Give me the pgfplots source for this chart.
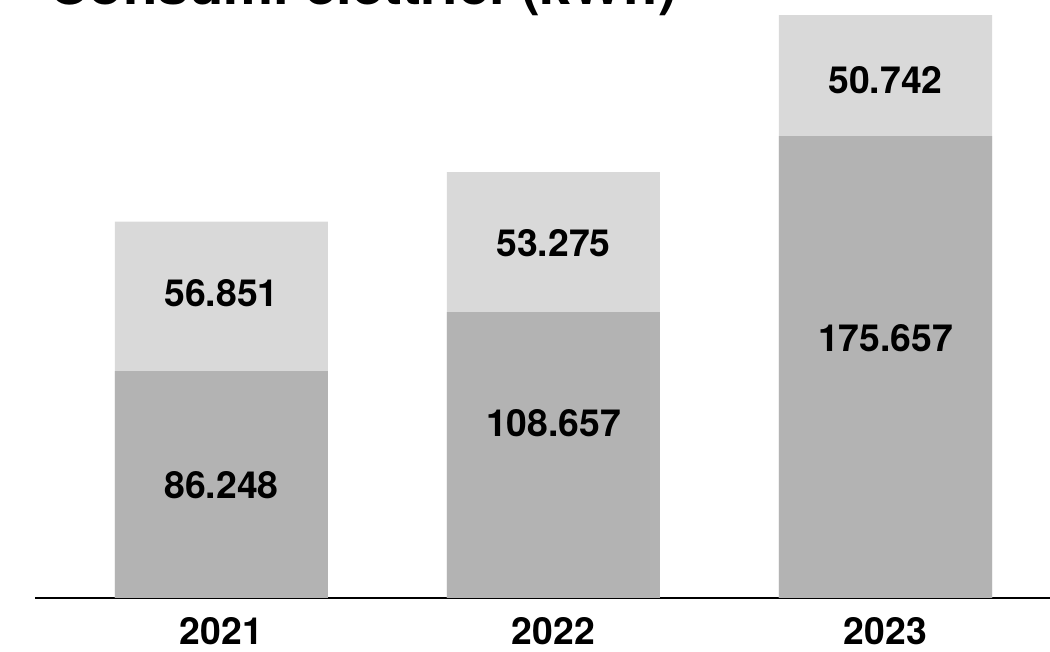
\documentclass[border=0pt]{standalone}
\usepackage{pgfplots}
\pgfplotsset{compat=1.18}
\usepackage{fontspec}
\setmainfont{TeX Gyre Heros}
\definecolor{darkbar}{HTML}{B3B3B3}
\definecolor{lightbar}{HTML}{D9D9D9}
\begin{document}
\begin{tikzpicture}
\begin{axis}[
  at={(26.25pt,40.5pt)}, anchor=south west,
  scale only axis,
  width=761.25pt, height=436.5pt,
  xmin=-0.5617, xmax=2.4955,
  ymin=0, ymax=221.29,
  clip=true,
  hide y axis,
  axis x line*=bottom,
  x axis line style={line width=2.2pt, -},
  xtick={0,1,2},
  xticklabels={2021,2022,2023},
  major tick length=0pt,
  xticklabel style={anchor=base, yshift=-35.25pt, font=\fontsize{28}{28}\selectfont\bfseries},
  title={Consumi elettrici (kWh)},
  title style={at={(rel axis cs:0.0128,1.00515)}, anchor=base west, inner sep=0pt,
    font=\fontsize{42.3}{42}\selectfont\bfseries},
]
% totals (dark + light) drawn first, light grey
\addplot[ybar, bar width=159.75pt, bar shift=0pt, fill=lightbar, draw=none]
  coordinates {(0,143.099) (1,161.932) (2,226.399)};
% first component, dark grey
\addplot[ybar, bar width=159.75pt, bar shift=0pt, fill=darkbar, draw=none]
  coordinates {(0,86.248) (1,108.657) (2,175.657)};
% value labels
\addplot[only marks, mark=none, point meta=explicit symbolic,
  nodes near coords,
  nodes near coords style={anchor=center, text=black, font=\fontsize{28}{28}\selectfont\bfseries}]
  coordinates {
    (0,43.0) [86.248]
    (0,116.0) [56.851]
    (1,66.5) [108.657]
    (1,135.0) [53.275]
    (2,98.9) [175.657]
    (2,197.0) [50.742]
  };
\end{axis}
\pgfresetboundingbox
\path[use as bounding box] (0,0) rectangle (787.5pt,489pt);
\end{tikzpicture}
\end{document}
